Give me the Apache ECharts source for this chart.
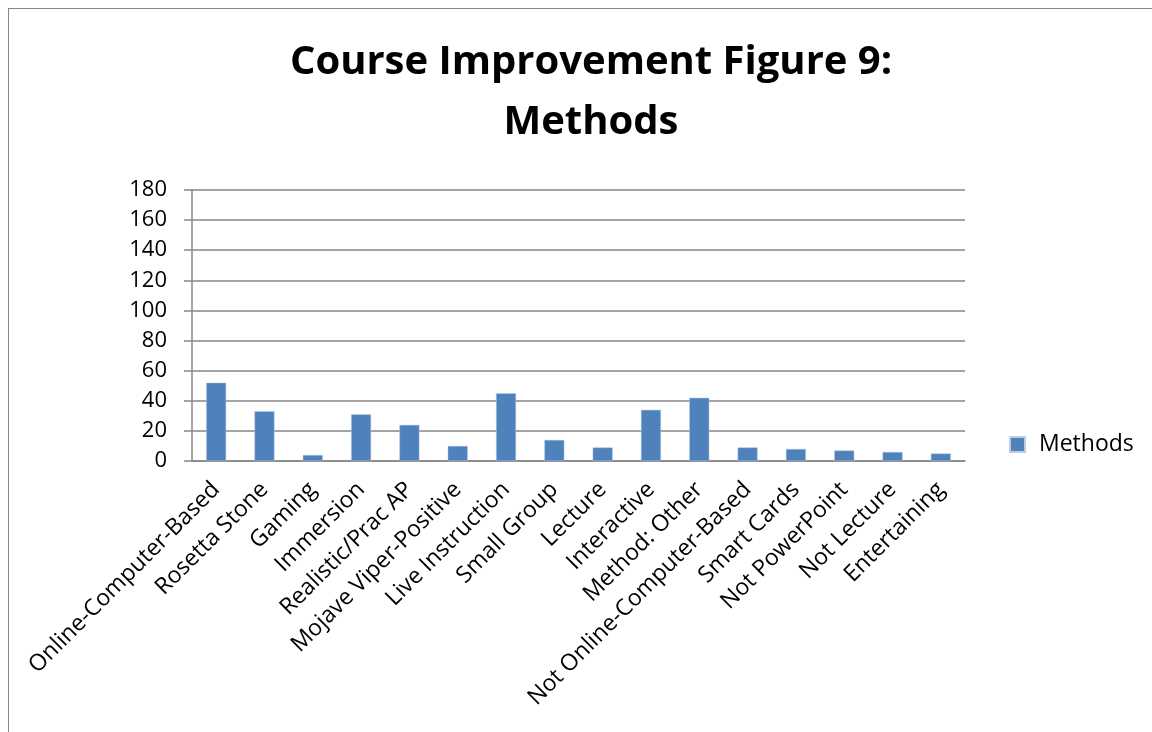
<!DOCTYPE html>
<html><head><meta charset="utf-8">
<script src="https://cdn.jsdelivr.net/npm/echarts@6/dist/echarts.min.js"></script>
<style>
html,body{margin:0;padding:0;background:#fff;}
#frame{position:absolute;left:8px;top:8px;width:1150px;height:730px;border:1px solid #868686;box-sizing:border-box;}
#c{position:absolute;left:0;top:0;width:1152px;height:732px;}
</style></head><body>
<div id="frame"></div>
<div id="c"></div>
<script>
const categories = ["Online-Computer-Based","Rosetta Stone","Gaming","Immersion","Realistic/Prac AP","Mojave Viper-Positive","Live Instruction","Small Group","Lecture","Interactive","Method: Other","Not Online-Computer-Based","Smart Cards","Not PowerPoint","Not Lecture","Entertaining"];
const methods = [52,33,4,31,24,10,45,14,9,34,42,9,8,7,6,5];
const yTicks = {min:0,max:180,interval:20};
const titleLines = ["Course Improvement Figure 9:","Methods"];
const seriesName = "Methods";

const chart = echarts.init(document.getElementById('c'));
const font = "'Open Sans', sans-serif";
chart.setOption({
  animation:false,
  title:{text:titleLines.join("\n"),left:586,textAlign:'center',top:28,
    textStyle:{fontFamily:font,fontWeight:'bold',fontSize:40,lineHeight:60,color:'#000'}},
  legend:{left:1004,top:428,itemWidth:15,itemHeight:15,icon:'rect',
    textStyle:{fontFamily:font,fontSize:23,color:'#000',padding:[0,0,0,9]},data:[seriesName]},
  grid:{left:192,right:187,top:190,bottom:271,containLabel:false},
  xAxis:{type:'category',data:categories,boundaryGap:true,
    axisLine:{lineStyle:{color:'#868686',width:1.5}},
    axisTick:{alignWithLabel:false,length:7,lineStyle:{color:'#868686',width:1.5}},
    axisLabel:{rotate:45,interval:0,fontFamily:font,fontSize:23,color:'#000',margin:25}},
  yAxis:{type:'value',min:yTicks.min,max:yTicks.max,interval:yTicks.interval,
    axisLine:{show:true,lineStyle:{color:'#868686',width:1.5}},
    axisTick:{show:true,length:8,lineStyle:{color:'#868686',width:1.5}},
    splitLine:{lineStyle:{color:'#868686',width:1.5}},
    axisLabel:{fontFamily:font,fontSize:22,color:'#000',margin:25}},
  series:[{name:seriesName,type:'bar',data:methods,barWidth:20,
    itemStyle:{color:'#4f81bd',borderColor:'#b9cde5',borderWidth:0.5}}]
});
</script></body></html>
